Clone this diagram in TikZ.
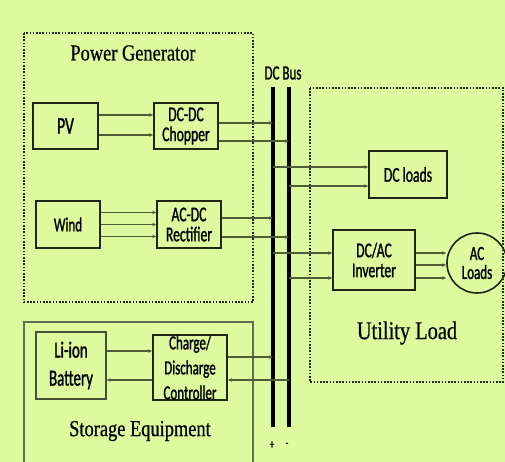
\documentclass[tikz,border=0pt]{standalone}
\usepackage{fontspec}
\setmainfont{Liberation Serif}[FakeStretch=0.8, FakeBold=0.6]
\newfontfamily\labelfont{Carlito}[FakeStretch=0.65, FakeBold=1.2]
\usepackage{tikz}
\usetikzlibrary{arrows.meta}
\usepackage{xcolor}
\definecolor{bggreen}{RGB}{221,250,158}
\definecolor{flowgreen}{RGB}{78,92,58}
\definecolor{boxdark}{RGB}{30,38,22}
\definecolor{storegray}{RGB}{96,110,80}

\begin{document}
\begin{tikzpicture}[x=1pt, y=-1pt,
  unit/.style={draw=boxdark, line width=1.6pt, inner sep=0pt, align=center,
    font=\labelfont\fontsize{21}{20}\selectfont},
  flow/.style={draw=flowgreen, line width=1.1pt, -{Stealth[length=4pt, width=3.5pt]}},
  zone/.style={draw=boxdark, line width=2pt, dash pattern=on 1.6pt off 1.6pt},
  busline/.style={line width=4pt, black},
  title/.style={font=\fontsize{23}{25}\selectfont}]
  \fill[bggreen] (0,0) rectangle (505,462);
  \useasboundingbox (0,0) rectangle (505,462);
  % Areas
  \draw[zone] (24,33) rectangle (253,302);
  \draw[zone] (310,88) rectangle (503,382);
  \draw[storegray, line width=1.5pt] (24,462) -- (24,322) -- (253,322) -- (253,462);
  \node[title] (gentitle) at (133,53) {Power Generator};
  \node[title, font=\fontsize{25.5}{27}\selectfont] (loadtitle) at (407,333) {Utility Load};
  \node[title] (storetitle) at (140,431) {Storage Equipment};
  % DC bus
  \coordinate (bus1) at (273,87);
  \coordinate (bus1end) at (273,427);
  \coordinate (bus2) at (289,87);
  \coordinate (bus2end) at (289,427);
  \draw[busline] (bus1) -- (bus1end);
  \draw[busline] (bus2) -- (bus2end);
  \node[font=\labelfont\fontsize{20}{20}\selectfont] (buslabel) at (283,73) {DC Bus};
  \node[font=\labelfont\fontsize{13}{13}\selectfont] (plus) at (272,445) {+};
  \node[font=\labelfont\fontsize{13}{13}\selectfont] (minus) at (287,445) {-};
  % Blocks
  \node[unit, minimum width=65pt, minimum height=46pt, font=\labelfont\fontsize{24}{24}\selectfont] (pv) at (65.5,126) {PV};
  \node[unit, minimum width=64pt, minimum height=46pt] (chop) at (186,126) {DC-DC\\Chopper};
  \node[unit, minimum width=64pt, minimum height=47pt, font=\labelfont\fontsize{20}{20}\selectfont] (wind) at (68,224.5) {Wind};
  \node[unit, minimum width=64pt, minimum height=47pt] (rect) at (189,224.5) {AC-DC\\Rectifier};
  \node[unit, minimum width=78pt, minimum height=47pt] (dcl) at (408,174.5) {DC loads};
  \node[unit, minimum width=82pt, minimum height=60pt] (inv) at (374,260) {DC/AC\\Inverter};
  \node[unit, circle, minimum size=60pt, font=\labelfont\fontsize{20}{19}\selectfont] (acl) at (477,263) {AC\\Loads};
  \node[unit, line width=1.2pt, draw=storegray!60!boxdark, minimum width=70pt, minimum height=67pt,
    font=\labelfont\fontsize{23}{28}\selectfont] (bat) at (71,365.5) {Li-ion\\Battery};
  \node[unit, line width=2pt, minimum width=74pt, minimum height=65pt,
    font=\labelfont\fontsize{20}{25}\selectfont] (ctrl) at (190,367.5) {Charge/\\Discharge\\Controller};
  % Flows
  \draw[flow] ([yshift=11pt]pv.east) -- ([yshift=11pt]pv.east -| chop.west);
  \draw[flow] ([yshift=-9pt]pv.east) -- ([yshift=-9pt]pv.east -| chop.west);
  \draw[flow] ([yshift=3pt]chop.east) -- ([yshift=3pt]chop.east -| bus1);
  \draw[flow] ([yshift=-15pt]chop.east) -- ([yshift=-15pt]chop.east -| bus2);
  \draw[flow] ([yshift=12pt]wind.east) -- ([yshift=12pt]wind.east -| rect.west);
  \draw[flow] (wind.east) -- (rect.west);
  \draw[flow] ([yshift=-12pt]wind.east) -- ([yshift=-12pt]wind.east -| rect.west);
  \draw[flow] ([yshift=6.5pt]rect.east) -- ([yshift=6.5pt]rect.east -| bus1);
  \draw[flow] ([yshift=-12.5pt]rect.east) -- ([yshift=-12.5pt]rect.east -| bus2);
  \draw[flow] ([yshift=7.5pt]dcl.west -| bus1) -- ([yshift=7.5pt]dcl.west);
  \draw[flow] ([yshift=-11.5pt]dcl.west -| bus2) -- ([yshift=-11.5pt]dcl.west);
  \draw[flow] ([yshift=7pt]inv.west -| bus1) -- ([yshift=7pt]inv.west);
  \draw[flow] ([yshift=-18pt]inv.west -| bus2) -- ([yshift=-18pt]inv.west);
  \draw[flow] ([yshift=7pt]inv.east) -- ([yshift=7pt]inv.east -| acl.west);
  \draw[flow] ([yshift=-5pt]inv.east) -- ([yshift=-5pt]inv.east -| acl.west);
  \draw[flow] ([yshift=-18pt]inv.east) -- ([yshift=-18pt]inv.east -| acl.west);
  \draw[flow] ([yshift=14.5pt]bat.east) -- ([yshift=14.5pt]bat.east -| ctrl.west);
  \draw[flow] ([yshift=-14.5pt]bat.east -| ctrl.west) -- ([yshift=-14.5pt]bat.east);
  \draw[flow] ([yshift=10.5pt]ctrl.east) -- ([yshift=10.5pt]ctrl.east -| bus1);
  \draw[flow] ([yshift=-12.5pt]ctrl.east -| bus2) -- ([yshift=-12.5pt]ctrl.east);
\end{tikzpicture}
\end{document}
